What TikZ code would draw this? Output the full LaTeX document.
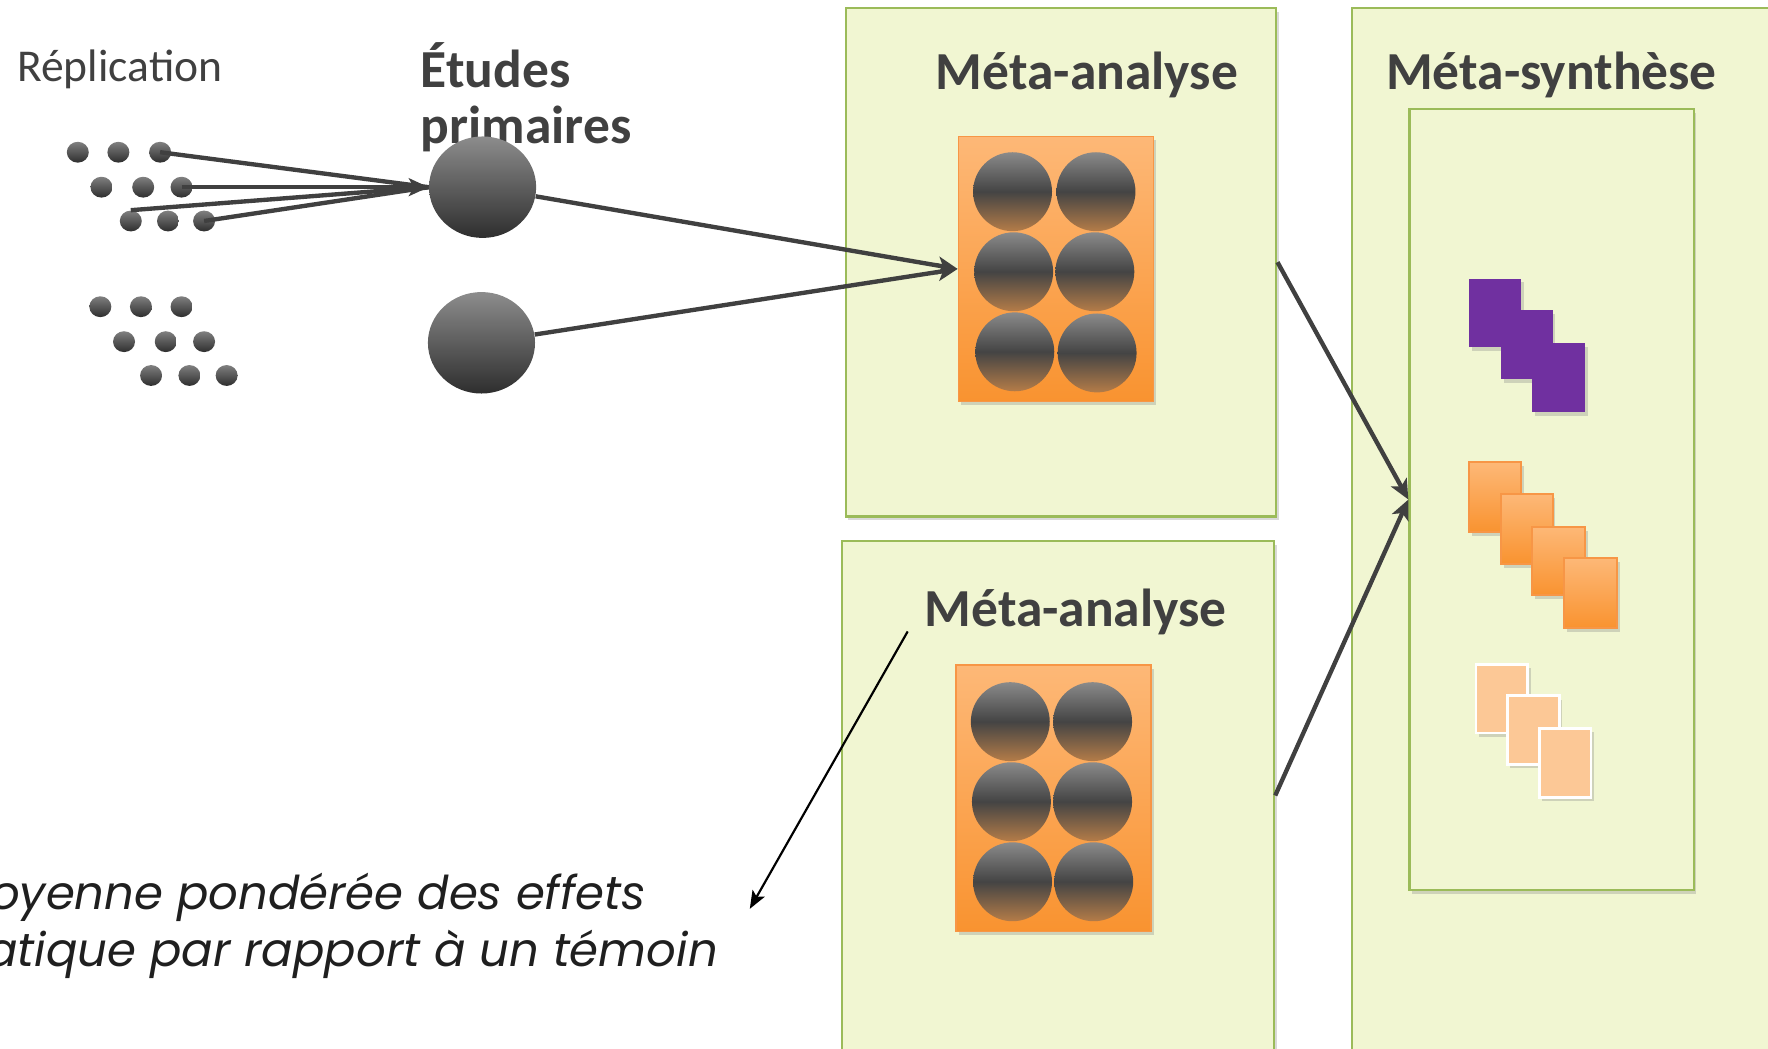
\documentclass[tikz,border=0pt]{standalone}
\usepackage{fontspec}
\setmainfont{Carlito}
\newfontfamily\gothic{Poppins}
\usetikzlibrary{shapes.geometric, arrows.meta, shadows, fit}

\definecolor{boxfill}{HTML}{F1F6D2}
\definecolor{boxline}{HTML}{9BBB59}
\definecolor{txt}{HTML}{404040}
\definecolor{arr}{HTML}{404040}
\definecolor{orT}{HTML}{FDB877}
\definecolor{orB}{HTML}{F99330}
\definecolor{orLine}{HTML}{F79646}
\definecolor{purp}{HTML}{7030A0}
\definecolor{peach}{HTML}{FCC896}
\definecolor{ballLt}{HTML}{8A8A8A}
\definecolor{ballDk}{HTML}{444444}
\definecolor{ballBr}{HTML}{B47C48}
\pgfdeclareverticalshading{ballshade}{100bp}{color(0bp)=(ballBr); color(25bp)=(ballBr); color(50bp)=(ballDk); color(75bp)=(ballLt); color(100bp)=(ballLt)}

\tikzset{
  px/.style={x=0.02cm, y=-0.02cm},
  shad/.style={drop shadow={opacity=0.3, shadow xshift=0.05cm, shadow yshift=-0.07cm}},
  cont/.style={draw=boxline, fill=boxfill, line width=1.1pt, inner sep=0pt, shad},
  orrect/.style={draw=orLine, line width=0.8pt, top color=orT, bottom color=orB, inner sep=0pt, shad},
  orsq/.style={draw=orLine, line width=1pt, top color=orT, bottom color=orB, inner sep=0pt, shad},
  purpsq/.style={fill=purp, inner sep=0pt, shad},
  peachsq/.style={fill=peach, draw=white, line width=1.4pt, inner sep=0pt, shad},
  dotball/.style={ellipse, inner sep=0pt, minimum width=0.39cm, minimum height=0.37cm, top color=black!50, bottom color=black!82},
  bigball/.style={ellipse, inner sep=0pt, minimum width=1.9cm, minimum height=1.8cm, top color=black!45, bottom color=black!82},
  ball/.style={circle, inner sep=0pt, minimum size=1.4cm, shading=ballshade},
  title/.style={text=txt, font=\fontsize{27}{28}\selectfont\bfseries, inner sep=0pt},
  conn/.style={draw=arr, line width=2.2pt},
  connarr/.style={conn, -{Stealth[length=10pt, width=9pt, inset=2.5pt]}},
  thinarr/.style={draw=black, line width=1.1pt, -{Stealth[length=9pt, width=7pt, inset=2pt]}},
  note/.style={text=black!88, font=\gothic\itshape\fontsize{23.5}{23.5}\selectfont, inner sep=0pt}
}

\begin{document}
\begin{tikzpicture}[px]
\useasboundingbox (0,0) rectangle (1568,929.5);

% containers
\node[cont, fit={(750,7) (1132,458)}] (ma1) {};
\node[cont, fit={(747,480) (1130,931)}] (ma2) {};
\node[cont, fit={(1199,7) (1620,940)}] (ms) {};
\node[cont, fit={(1250,97) (1502,789)}] (inner) {};

% titles
\node[title, anchor=base] (t1) at (964,79) {Méta-analyse};
\node[title, anchor=base] (t2) at (954,556) {Méta-analyse};
\node[title, anchor=base] (t3) at (1376,79) {Méta-synthèse};
\node[title, anchor=base west] (et1) at (373,78) {Études};
\node[title, anchor=base west] (et2) at (373,127) {primaires};
\node[text=txt, font=\fontsize{23}{23}\selectfont, anchor=base west, inner sep=0pt] (repl) at (15,72) {Réplication};

% orange rectangles with balls
\node[orrect, fit={(850,121) (1023,356)}] (or1) {};
\node[orrect, fit={(848,590) (1021,826)}] (or2) {};
\foreach \n/\x/\y in {a/898/170, b/972/170, c/899/241, d/971/241, e/900/312, f/973/313}
  \node[ball] (b1\n) at (\x,\y) {};
\foreach \n/\x/\y in {a/896/640, b/969/640, c/897/711, d/969/711, e/898/782, f/970/782}
  \node[ball] (b2\n) at (\x,\y) {};

% squares in synthesis
\node[purpsq, fit={(1303,247) (1349,308)}] (p1) {};
\node[purpsq, fit={(1331,275) (1377,336)}] (p2) {};
\node[purpsq, fit={(1359,304) (1406,365)}] (p3) {};
\node[orsq, fit={(1303,410) (1349,472)}] (o1) {};
\node[orsq, fit={(1331,438) (1377,500)}] (o2) {};
\node[orsq, fit={(1359,467) (1406,528)}] (o3) {};
\node[orsq, fit={(1387,495) (1434,557)}] (o4) {};
\node[peachsq, fit={(1309,589) (1355,650)}] (q1) {};
\node[peachsq, fit={(1337,617) (1383,678)}] (q2) {};
\node[peachsq, fit={(1365,646) (1411,707)}] (q3) {};

% dots
\foreach \n/\x/\y in {11/69/135, 12/105/135, 13/142/135, 21/90/166, 22/127/166, 23/161/166, 31/116/196, 32/149/196, 33/181/196}
  \node[dotball] (u\n) at (\x,\y) {};
\foreach \n/\x/\y in {11/89/272, 12/125/272, 13/161/272, 21/110/303, 22/147/303, 23/181/303, 31/134/333, 32/168/333, 33/201/333}
  \node[dotball] (l\n) at (\x,\y) {};

% primary studies
\node[bigball] (s1) at (428,166) {};
\node[bigball] (s2) at (427,304) {};

% connectors
\draw[conn] (u13.center) -- (s1.west);
\draw[conn] (u31.north) -- (s1.west);
\draw[conn] (u33.center) -- (s1.west);
\draw[connarr] (u23.center) -- (s1.west);
\draw[connarr] (s1) -- (or1.west);
\draw[connarr] (s2) -- (or1.west);
\draw[connarr] (ma1.east) -- (inner.west);
\draw[connarr] (ma2.east) -- (inner.west);

% note
\coordinate (nstart) at (805,560);
\coordinate (nend) at (665,806);
\draw[thinarr] (nstart) -- (nend);
\node[note, anchor=base east] (n1) at (573,807) {oyenne pondérée des effets};
\node[note, anchor=base east] (n2) at (637,857) {atique par rapport à un témoin};
\end{tikzpicture}
\end{document}
